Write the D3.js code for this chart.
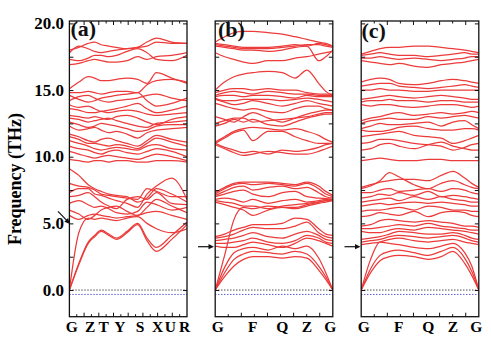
<!DOCTYPE html>
<html><head><meta charset="utf-8">
<script src="https://cdn.jsdelivr.net/npm/d3@7"></script>
<style>body{margin:0;background:#fff}svg{display:block}</style>
</head><body>
<svg id="chart" width="491" height="338"></svg>
<script>
// ---------- data ----------
const yTickValues = [0, 5, 10, 15, 20];
const yTickLabels = ["0.0", "5.0", "10.0", "15.0", "20.0"];
const panelNames = ["(a)", "(b)", "(c)"];

// panel (a): path G-Z-T-Y-S-X-U-R
const symLabelsA = ["G", "Z", "T", "Y", "S", "X", "U", "R"];
const symPosA = [0, 0.176, 0.292, 0.43, 0.60, 0.75, 0.858, 1.0];
const kA = [0, .08, .16, .215, .27, .335, .40, .49, .58, .66, .74, .87, 1.0];
const bandsA = [
  [0, 1.9, 3.5, 4.0, 4.4, 4.1, 3.8, 4.3, 4.9, 3.7, 2.9, 3.8, 4.9],
  [0, 2.0, 3.6, 4.1, 4.5, 4.2, 3.9, 4.4, 5.0, 3.9, 3.2, 4.1, 5.1],
  [0, 4.3, 5.4, 5.3, 5.4, 5.3, 5.2, 5.4, 5.5, 5.0, 4.6, 4.3, 4.6],
  [5.6, 5.3, 5.6, 5.7, 5.6, 5.5, 5.4, 5.5, 5.6, 5.8, 5.9, 5.6, 5.3],
  [6.0, 5.7, 5.3, 5.6, 6.0, 6.2, 6.3, 5.9, 5.6, 6.2, 6.8, 6.3, 5.8],
  [6.5, 6.7, 6.4, 6.2, 6.3, 6.1, 5.8, 5.7, 5.9, 6.6, 6.4, 6.0, 6.2],
  [7.0, 7.1, 7.3, 7.0, 6.6, 6.3, 6.1, 6.8, 7.0, 6.8, 7.3, 6.5, 6.4],
  [7.3, 7.6, 7.6, 7.2, 7.1, 6.9, 6.7, 6.5, 6.2, 7.2, 7.8, 8.4, 6.8],
  [8.0, 7.8, 7.7, 7.5, 7.2, 7.1, 7.0, 6.9, 6.8, 7.6, 7.4, 7.0, 7.0],
  [9.1, 8.6, 7.9, 7.6, 7.4, 7.2, 7.1, 7.0, 6.6, 6.9, 7.6, 7.2, 6.6],
  [9.8, 9.7, 9.6, 9.7, 9.7, 9.6, 9.7, 9.7, 9.6, 9.6, 9.7, 9.7, 9.6],
  [10.4, 10.2, 10.0, 9.9, 10.0, 10.1, 10.0, 9.9, 9.8, 10.0, 10.2, 10.0, 9.7],
  [10.8, 10.6, 10.5, 10.3, 10.2, 10.4, 10.5, 10.3, 10.2, 10.4, 10.6, 10.4, 10.0],
  [11.2, 11.0, 10.8, 10.6, 10.5, 10.6, 10.7, 10.6, 10.5, 10.8, 10.9, 10.6, 10.5],
  [11.5, 11.3, 11.0, 11.0, 10.9, 10.8, 10.9, 10.8, 10.6, 11.0, 11.4, 11.1, 10.8],
  [11.7, 11.5, 11.2, 11.1, 11.3, 11.4, 11.2, 11.0, 10.8, 11.2, 11.6, 11.3, 11.1],
  [12.3, 12.0, 12.1, 12.2, 12.0, 11.8, 11.9, 11.7, 11.4, 11.8, 12.0, 12.1, 12.2],
  [12.6, 12.4, 12.2, 12.3, 12.5, 12.4, 12.3, 12.1, 11.9, 12.0, 12.3, 12.4, 12.4],
  [12.9, 12.8, 12.6, 12.7, 12.8, 12.9, 12.7, 12.5, 12.3, 12.2, 12.5, 12.6, 12.7],
  [13.1, 13.0, 12.9, 13.0, 12.9, 12.8, 13.0, 13.1, 12.9, 12.6, 12.4, 12.8, 13.0],
  [13.6, 13.5, 13.3, 13.3, 13.4, 13.3, 13.4, 13.5, 13.4, 13.2, 13.1, 13.2, 13.3],
  [13.9, 13.7, 13.8, 13.6, 13.4, 13.5, 13.6, 13.8, 14.0, 13.6, 13.3, 13.5, 13.8],
  [14.2, 14.5, 14.6, 14.4, 14.2, 14.1, 14.2, 14.3, 14.4, 14.6, 14.7, 14.4, 14.2],
  [14.6, 14.3, 14.1, 14.2, 14.4, 14.5, 14.6, 14.7, 14.8, 14.2, 13.8, 14.0, 14.4],
  [14.8, 14.8, 14.9, 14.8, 14.7, 14.8, 14.9, 14.9, 14.8, 15.4, 15.7, 15.8, 15.6],
  [15.1, 15.6, 16.0, 15.9, 15.7, 15.7, 15.8, 15.9, 15.8, 15.5, 16.3, 15.9, 15.5],
  [16.9, 17.0, 17.2, 17.3, 17.2, 17.1, 17.1, 17.2, 17.5, 17.3, 17.5, 17.6, 17.8],
  [17.3, 17.2, 17.4, 17.6, 17.6, 17.5, 17.6, 17.9, 18.1, 17.8, 17.3, 17.2, 17.6],
  [17.8, 18.3, 18.1, 17.9, 17.8, 17.9, 18.0, 18.1, 18.2, 18.3, 18.6, 18.5, 18.5],
  [18.0, 18.2, 18.5, 18.6, 18.4, 18.3, 18.2, 18.1, 18.2, 18.6, 18.9, 18.6, 18.5]
];

// panels (b) and (c): path G-F-Q-Z-G
const symLabelsBC = ["G", "F", "Q", "Z", "G"];
const symPosBC = [0, 0.32, 0.57, 0.78, 1.0];
const kBC = [0, .08, .16, .24, .32, .45, .57, .68, .78, .88, .94, 1.0];
const bandsB = [
  [0, 1.0, 1.8, 2.3, 2.5, 2.5, 2.4, 2.5, 2.4, 1.5, 0.8, 0],
  [0, 1.3, 2.3, 2.7, 2.9, 2.8, 2.7, 2.9, 2.7, 1.8, 1.0, 0],
  [0, 1.7, 2.8, 3.1, 3.2, 3.0, 3.3, 3.1, 3.3, 2.4, 1.3, 0],
  [3.3, 3.2, 3.2, 3.4, 3.6, 3.4, 3.2, 3.5, 3.9, 3.7, 3.5, 3.3],
  [3.5, 3.5, 3.6, 3.7, 3.9, 3.6, 3.5, 3.7, 4.1, 3.9, 3.6, 3.5],
  [3.7, 3.8, 3.9, 4.1, 4.3, 4.0, 3.9, 4.2, 4.4, 4.1, 3.8, 3.7],
  [3.9, 4.0, 4.2, 4.5, 4.7, 4.6, 4.6, 4.8, 5.1, 4.3, 4.0, 3.9],
  [4.0, 4.2, 4.5, 4.7, 4.9, 4.9, 5.0, 5.4, 5.3, 4.6, 4.2, 4.1],
  [0, 2.6, 5.3, 6.2, 6.1, 6.3, 6.2, 6.2, 6.4, 6.6, 6.7, 6.75],
  [6.6, 6.4, 6.2, 6.0, 5.6, 6.0, 6.2, 6.1, 6.3, 6.5, 6.6, 6.7],
  [6.7, 6.6, 6.5, 6.3, 6.3, 6.1, 6.3, 6.4, 6.5, 6.6, 6.7, 6.75],
  [6.8, 6.9, 6.8, 6.6, 6.8, 6.5, 6.7, 6.8, 6.6, 6.7, 6.8, 6.8],
  [7.0, 7.2, 7.4, 7.5, 7.2, 7.0, 7.3, 7.4, 7.0, 6.9, 6.85, 6.8],
  [7.1, 7.4, 7.7, 7.8, 7.5, 7.7, 7.8, 7.6, 7.7, 7.3, 7.0, 6.9],
  [7.2, 7.6, 7.9, 8.0, 7.9, 8.0, 7.9, 7.8, 8.0, 7.6, 7.2, 7.0],
  [7.3, 7.7, 8.0, 8.1, 8.1, 8.1, 8.0, 7.9, 8.1, 7.8, 7.4, 7.1],
  [10.9, 10.6, 10.3, 10.1, 10.2, 10.4, 10.3, 10.2, 10.2, 10.4, 10.6, 10.8],
  [11.0, 10.7, 10.5, 10.3, 10.4, 10.2, 10.5, 10.4, 10.5, 10.7, 10.9, 11.0],
  [11.0, 11.4, 11.8, 12.0, 11.2, 11.9, 11.9, 11.5, 11.2, 11.0, 11.0, 11.0],
  [11.1, 11.5, 11.9, 12.1, 12.2, 12.1, 12.0, 12.1, 11.9, 11.6, 11.3, 11.1],
  [12.3, 12.5, 12.8, 12.6, 12.8, 12.4, 12.3, 12.6, 12.9, 13.1, 13.2, 13.2],
  [12.5, 12.7, 12.9, 12.9, 12.6, 12.7, 12.8, 12.9, 13.0, 13.2, 13.3, 13.3],
  [13.0, 12.8, 12.6, 13.0, 13.3, 12.9, 12.6, 12.9, 13.2, 13.4, 13.5, 13.5],
  [14.0, 13.8, 13.6, 13.5, 13.6, 13.4, 13.3, 13.6, 13.8, 13.8, 13.6, 13.5],
  [14.3, 14.1, 13.9, 14.0, 14.2, 14.0, 13.8, 14.0, 14.2, 14.0, 13.9, 13.8],
  [14.4, 14.2, 14.2, 14.3, 14.3, 14.3, 14.2, 14.3, 14.4, 14.3, 14.2, 14.1],
  [14.5, 14.6, 14.6, 14.5, 14.6, 14.6, 14.5, 14.4, 14.6, 14.5, 14.5, 14.5],
  [14.6, 14.8, 14.9, 14.8, 14.7, 14.9, 14.8, 14.7, 14.7, 14.6, 14.6, 14.6],
  [14.8, 15.0, 15.1, 15.1, 15.0, 15.1, 15.0, 15.0, 14.8, 14.7, 14.7, 14.7],
  [15.0, 15.6, 16.0, 16.2, 16.3, 16.4, 16.3, 15.9, 16.5, 15.5, 14.9, 14.6],
  [17.8, 17.5, 17.3, 17.1, 17.0, 17.2, 17.2, 17.4, 17.5, 17.7, 17.8, 17.9],
  [18.3, 18.2, 18.1, 18.0, 18.0, 17.9, 18.0, 18.2, 18.3, 17.2, 17.5, 18.0],
  [18.4, 18.3, 18.2, 18.1, 18.1, 18.1, 18.2, 18.3, 18.4, 18.4, 18.3, 18.2],
  [18.5, 18.4, 18.3, 18.2, 18.2, 18.2, 18.3, 18.4, 18.3, 18.5, 18.4, 18.3],
  [18.6, 19.0, 19.3, 19.4, 19.4, 19.3, 19.2, 19.0, 18.8, 18.6, 18.5, 18.3]
];
const bandsC = [
  [0, 1.3, 2.2, 2.5, 2.6, 2.5, 2.3, 2.5, 2.9, 2.0, 1.1, 0],
  [0, 1.6, 2.6, 2.9, 3.0, 2.8, 2.6, 2.9, 3.2, 2.4, 1.4, 0],
  [0, 2.3, 3.6, 3.5, 3.4, 3.2, 3.1, 3.3, 3.5, 2.8, 1.8, 0],
  [3.4, 3.5, 3.6, 3.8, 3.9, 3.7, 3.6, 3.7, 3.8, 3.6, 3.5, 3.4],
  [3.6, 3.7, 3.8, 4.0, 4.1, 4.0, 3.9, 4.0, 4.1, 3.9, 3.7, 3.6],
  [3.8, 3.9, 4.0, 4.2, 4.4, 4.3, 4.2, 4.2, 4.3, 4.1, 3.9, 3.8],
  [4.4, 4.3, 4.3, 4.5, 4.6, 4.5, 4.7, 4.6, 4.5, 4.4, 4.3, 4.2],
  [4.6, 4.6, 4.7, 4.8, 4.9, 4.8, 5.0, 4.8, 4.7, 4.6, 4.5, 4.5],
  [4.8, 4.9, 5.2, 5.3, 5.2, 5.1, 5.2, 5.1, 5.0, 4.8, 4.8, 4.7],
  [5.5, 5.6, 5.8, 5.7, 5.6, 5.9, 5.5, 5.8, 5.9, 5.8, 5.6, 5.5],
  [5.9, 6.0, 6.0, 6.1, 6.2, 6.0, 6.3, 6.2, 6.0, 6.0, 5.9, 5.9],
  [6.3, 6.4, 6.5, 6.4, 6.5, 6.6, 6.5, 6.6, 6.5, 6.4, 6.3, 6.3],
  [6.6, 6.7, 6.8, 6.9, 6.7, 7.0, 6.8, 7.0, 6.8, 6.7, 6.6, 6.6],
  [6.9, 7.0, 7.2, 7.1, 7.3, 7.1, 7.4, 7.0, 7.1, 7.0, 6.9, 6.8],
  [7.3, 7.3, 7.5, 7.6, 7.4, 7.5, 7.6, 7.4, 7.6, 7.5, 7.3, 7.2],
  [7.6, 7.8, 8.2, 8.8, 8.5, 7.9, 7.6, 8.0, 8.2, 7.9, 7.7, 7.6],
  [7.7, 7.9, 8.1, 8.2, 8.3, 8.3, 8.2, 8.6, 8.9, 8.4, 8.0, 7.7],
  [9.7, 9.8, 9.9, 9.8, 9.7, 9.7, 9.8, 9.8, 9.7, 9.7, 9.7, 9.7],
  [10.5, 10.6, 10.9, 11.0, 10.8, 10.6, 10.9, 11.1, 10.8, 10.6, 10.5, 10.5],
  [11.0, 11.1, 11.3, 11.3, 11.2, 11.0, 10.9, 10.8, 10.5, 10.7, 10.9, 11.0],
  [11.5, 11.6, 11.7, 11.8, 11.9, 11.6, 11.5, 11.4, 11.0, 11.2, 11.4, 11.6],
  [12.0, 11.9, 11.9, 12.0, 12.2, 12.3, 12.1, 12.0, 12.0, 12.1, 12.1, 12.0],
  [12.1, 12.3, 12.5, 12.4, 12.4, 12.5, 12.6, 12.3, 12.6, 12.7, 12.4, 12.1],
  [12.5, 12.7, 12.8, 12.9, 12.8, 12.8, 13.0, 12.9, 13.0, 13.1, 13.0, 12.9],
  [12.7, 12.9, 13.0, 13.2, 13.3, 13.1, 13.2, 13.3, 13.2, 13.3, 13.4, 13.3],
  [13.9, 13.8, 13.9, 13.9, 13.8, 13.7, 13.8, 13.9, 13.9, 13.8, 13.7, 13.8],
  [14.1, 14.2, 14.2, 14.3, 14.2, 14.2, 14.1, 14.2, 14.2, 14.1, 14.1, 14.1],
  [14.3, 14.4, 14.5, 14.6, 14.5, 14.4, 14.5, 14.6, 14.5, 14.4, 14.3, 14.3],
  [15.0, 15.0, 15.1, 15.0, 15.0, 14.9, 14.9, 15.0, 15.0, 15.0, 15.0, 15.0],
  [15.3, 15.4, 15.5, 15.5, 15.3, 15.2, 15.1, 15.2, 15.3, 15.4, 15.3, 15.2],
  [15.6, 15.8, 15.9, 15.8, 15.5, 15.4, 15.5, 15.7, 15.8, 15.7, 15.6, 15.5],
  [17.2, 17.1, 17.0, 16.9, 17.0, 16.8, 16.7, 16.9, 17.0, 17.1, 17.2, 17.3],
  [17.4, 17.4, 17.5, 17.4, 17.3, 17.4, 17.3, 17.2, 17.3, 17.4, 17.5, 17.5],
  [17.6, 17.7, 17.8, 17.7, 17.6, 17.6, 17.5, 17.6, 17.7, 17.8, 17.7, 17.7],
  [17.7, 17.9, 18.1, 18.2, 18.2, 18.3, 18.3, 18.2, 18.1, 18.0, 17.9, 17.8]
];
const arrowFreqBC = 3.25;  // arrow markers in (b), (c)
const arrowFreqA = 5.0;

// ---------- drawing ----------
const svg = d3.select("#chart");
const SERIF = "'Liberation Serif','Times New Roman',serif";
const RED = "#ec3b3b";
const yTop = 21, yBot = 316.7, W = 117.6;
const y = d3.scaleLinear().domain([-2, 20.18]).range([yBot, yTop]);

const panels = [
  {name: panelNames[0], x0: 69.4, k: kA, bands: bandsA, sym: symPosA, labels: symLabelsA, nt: 16, lx: 70.5, ly: 36},
  {name: panelNames[1], x0: 215.2, k: kBC, bands: bandsB, sym: symPosBC, labels: symLabelsBC, nt: 9, lx: 218, ly: 37},
  {name: panelNames[2], x0: 361.2, k: kBC, bands: bandsC, sym: symPosBC, labels: symLabelsBC, nt: 9, lx: 361.5, ly: 38}
];

const defs = svg.append("defs");

panels.forEach((p, pi) => {
  const x = d3.scaleLinear().domain([0, 1]).range([p.x0, p.x0 + W]);
  const g = svg.append("g");
  defs.append("clipPath").attr("id", "clip" + pi)
    .append("rect").attr("x", p.x0).attr("y", yTop).attr("width", W).attr("height", yBot - yTop);

  g.append("line").attr("x1", p.x0).attr("x2", p.x0 + W).attr("y1", y(0)).attr("y2", y(0))
    .attr("stroke", "#222").attr("stroke-width", 1).attr("stroke-dasharray", "1.2,1.8");
  g.append("line").attr("x1", p.x0).attr("x2", p.x0 + W).attr("y1", y(-0.33)).attr("y2", y(-0.33))
    .attr("stroke", "#3a3ad0").attr("stroke-width", 1).attr("stroke-dasharray", "1.2,1.8");

  const line = d3.line().x((d, i) => x(p.k[i])).y(d => y(d)).curve(d3.curveMonotoneX);
  g.append("g").attr("clip-path", `url(#clip${pi})`)
    .selectAll("path").data(p.bands).join("path")
    .attr("d", line).attr("fill", "none").attr("stroke", RED).attr("stroke-width", 1.25);

  g.append("rect").attr("x", p.x0).attr("y", yTop).attr("width", W).attr("height", yBot - yTop)
    .attr("fill", "none").attr("stroke", "#111").attr("stroke-width", 1.3);

  const yt = d3.range(0, 20.01, 2.5);
  g.append("g").attr("transform", `translate(${p.x0},0)`)
    .call(d3.axisRight(y).tickValues(yt).tickSize(4).tickFormat(""))
    .call(s => s.select(".domain").remove())
    .selectAll("line").attr("stroke", "#111").attr("stroke-width", 1);
  g.append("g").attr("transform", `translate(${p.x0 + W},0)`)
    .call(d3.axisLeft(y).tickValues(yt).tickSize(4).tickFormat(""))
    .call(s => s.select(".domain").remove())
    .selectAll("line").attr("stroke", "#111").attr("stroke-width", 1);

  const xt = d3.scaleLinear().domain([0, p.nt]).range([p.x0, p.x0 + W]);
  const ticks = d3.range(1, p.nt);
  g.selectAll("line.xb").data(ticks).join("line").attr("class", "xb")
    .attr("x1", d => xt(d)).attr("x2", d => xt(d))
    .attr("y1", yBot).attr("y2", d => yBot - (d % 2 === 0 ? 4 : 2.5))
    .attr("stroke", "#111").attr("stroke-width", 1);
  g.selectAll("line.xt").data(ticks).join("line").attr("class", "xt")
    .attr("x1", d => xt(d)).attr("x2", d => xt(d))
    .attr("y1", yTop).attr("y2", d => yTop + (d % 2 === 0 ? 4 : 2.5))
    .attr("stroke", "#111").attr("stroke-width", 1);

  const n = p.labels.length;
  g.selectAll("text.xl").data(p.labels).join("text").attr("class", "xl")
    .attr("x", (d, i) => x(p.sym[i]) + (i === 0 ? 2.5 : i === n - 1 ? -2.5 : 0))
    .attr("y", 332).attr("text-anchor", "middle")
    .attr("font-family", SERIF).attr("font-weight", "bold").attr("font-size", 15.5)
    .text(d => d);

  g.append("text").attr("x", p.lx).attr("y", p.ly)
    .attr("font-family", SERIF).attr("font-weight", "bold").attr("font-size", 22)
    .attr("fill", "#111").text(p.name);
});

svg.selectAll("text.yl").data(yTickValues).join("text").attr("class", "yl")
  .attr("x", 64).attr("y", d => y(d) + 5.5).attr("text-anchor", "end")
  .attr("font-family", SERIF).attr("font-weight", "bold").attr("font-size", 17)
  .text((d, i) => yTickLabels[i]);

svg.append("text").attr("transform", "translate(21,179) rotate(-90)")
  .attr("text-anchor", "middle").attr("font-family", SERIF).attr("font-weight", "bold")
  .attr("font-size", 18).text("Frequency (THz)");

function arrow(x1, y1, x2, y2) {
  const a = Math.atan2(y2 - y1, x2 - x1), L = 5.5, w = 2.6;
  svg.append("line").attr("x1", x1).attr("y1", y1)
    .attr("x2", x2 - Math.cos(a) * L * 0.8).attr("y2", y2 - Math.sin(a) * L * 0.8)
    .attr("stroke", "#111").attr("stroke-width", 1.2);
  const bx = x2 - Math.cos(a) * L, by = y2 - Math.sin(a) * L;
  svg.append("path").attr("d",
    `M${x2},${y2}L${bx - Math.sin(a) * w},${by + Math.cos(a) * w}L${bx + Math.sin(a) * w},${by - Math.cos(a) * w}Z`)
    .attr("fill", "#111");
}
arrow(58, y(arrowFreqA) - 12, 70, y(arrowFreqA) + 0.5);
arrow(198, y(arrowFreqBC), 214, y(arrowFreqBC));
arrow(344.5, y(arrowFreqBC), 360.5, y(arrowFreqBC));
</script>
</body></html>
